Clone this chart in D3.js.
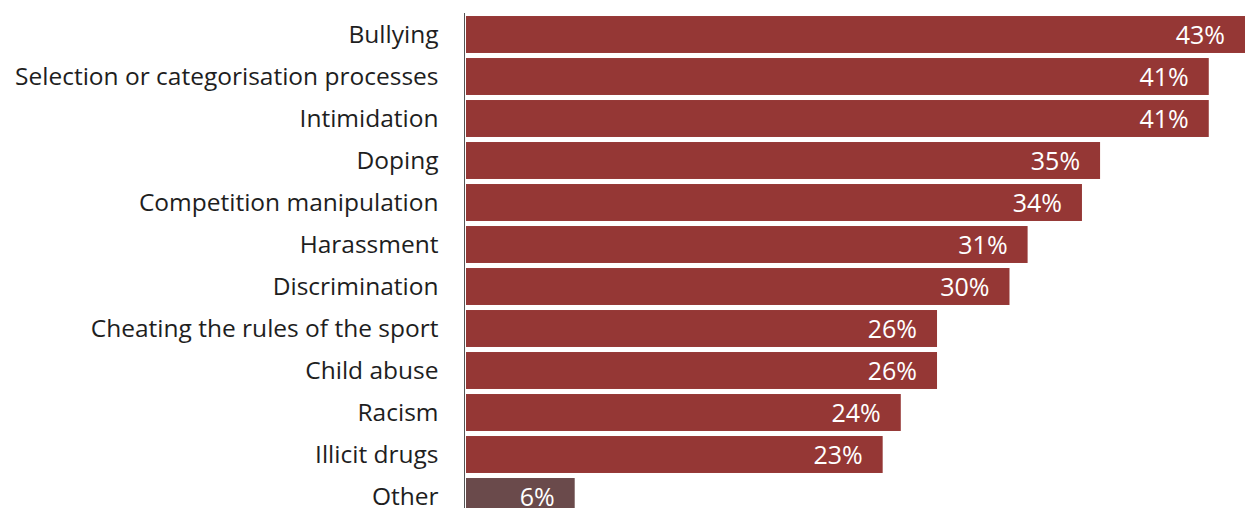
<!DOCTYPE html>
<html>
<head>
<meta charset="utf-8">
<script src="https://cdn.jsdelivr.net/npm/d3@7"></script>
<style>
  html, body { margin: 0; padding: 0; background: #ffffff; }
  svg { display: block; }
</style>
</head>
<body>
<svg id="chart" width="1247" height="508"></svg>
<script>
// Share of respondents naming each issue
const categories = [
  "Bullying",
  "Selection or categorisation processes",
  "Intimidation",
  "Doping",
  "Competition manipulation",
  "Harassment",
  "Discrimination",
  "Cheating the rules of the sport",
  "Child abuse",
  "Racism",
  "Illicit drugs",
  "Other"
];
const values = [43, 41, 41, 35, 34, 31, 30, 26, 26, 24, 23, 6];
const valueLabels = ["43%", "41%", "41%", "35%", "34%", "31%", "30%", "26%", "26%", "24%", "23%", "6%"];

const W = 1247, H = 508;
const svg = d3.select("#chart");
const data = categories.map((c, i) => ({ cat: c, v: values[i], label: valueLabels[i] }));

const x = d3.scaleLinear().domain([0, 43]).range([466, 1245]);
const y = d3.scaleBand().domain(categories).range([13.5, 517.5])
  .paddingInner(0.12).paddingOuter(0.06);

const font = "'Open Sans', Lato, sans-serif";

// bars
svg.append("g").selectAll("rect").data(data).join("rect")
  .attr("x", x(0))
  .attr("y", d => y(d.cat))
  .attr("width", d => x(d.v) - x(0))
  .attr("height", y.bandwidth())
  .attr("fill", d => d.cat === "Other" ? "#6a4a4b" : "#953735");

// value labels inside bar ends
svg.append("g").selectAll("text").data(data).join("text")
  .attr("x", d => Math.min(x(d.v) - 20, W - 10))
  .attr("y", d => y(d.cat) + y.bandwidth() / 2)
  .attr("dy", "0.36em")
  .attr("text-anchor", "end")
  .attr("font-family", font)
  .attr("font-size", 25)
  .attr("fill", "#ffffff")
  .text(d => d.label);

// category axis
const axis = svg.append("g")
  .attr("transform", `translate(${x(0) - 1.5},0)`)
  .call(d3.axisLeft(y).tickSize(0).tickPadding(26));
axis.select(".domain").attr("stroke", "#555").attr("stroke-width", 1).attr("d", "M0,13V508");
axis.selectAll("text")
  .attr("font-family", font)
  .attr("font-size", 24.5)
  .attr("dy", "0.35em")
  .attr("fill", "#1e1e1e");
</script>
</body>
</html>
